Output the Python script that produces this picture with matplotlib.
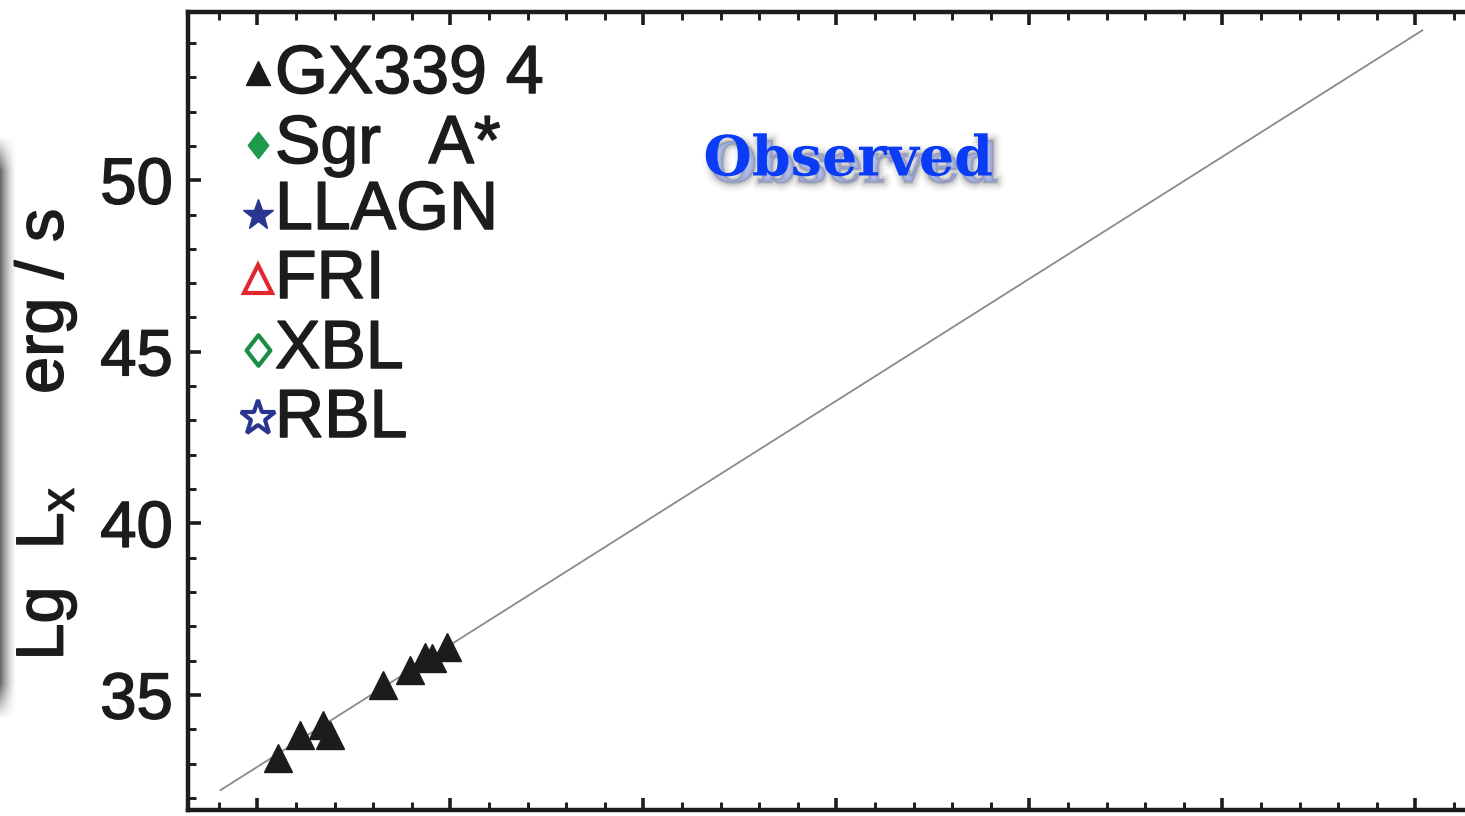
import numpy as np
import matplotlib
matplotlib.use("Agg")
import matplotlib.pyplot as plt
import matplotlib.patheffects as pe
from matplotlib.lines import Line2D
from matplotlib.path import Path
from matplotlib.ticker import MultipleLocator

plt.rcParams["font.family"] = ["Liberation Sans", "DejaVu Sans"]
plt.rcParams["mathtext.fontset"] = "custom"
plt.rcParams["mathtext.rm"] = "Liberation Sans"

# GX339-4 measurements (log radio luminosity, log X-ray luminosity)
gx_lg_lr = [30.52, 31.11, 31.71, 31.89, 33.26, 33.96, 34.35, 34.53, 34.92]
gx_lg_lx = [33.16, 33.83, 34.13, 33.83, 35.29, 35.73, 36.11, 36.08, 36.40]

# linear relation Lg Lx = intercept + slope * Lg Lr
fit_slope = 0.711
fit_intercept = 11.58
fit_x_range = [29.04, 60.18]

# legend entries
legend_names = ["GX339 4", "Sgr \u2009 A*", "LLAGN", "FRI", "XBL", "RBL"]
legend_markers = ["^", "diamond", "*", "^", "diamond", "*"]
legend_colors = ["#1a1a1a", "#1f9a4a", "#2a3590", "#e0262f", "#1b8c44", "#2a3590"]
legend_filled = [True, True, True, False, False, False]

y_ticks = [35, 40, 45, 50]

INK = "#1c1c1c"
heavy = [pe.withStroke(linewidth=1.1, foreground=INK)]

# slightly tall diamond marker
tall_diamond = Path([(0, 1), (0.78, 0), (0, -1), (-0.78, 0), (0, 1)],
                    [Path.MOVETO, Path.LINETO, Path.LINETO, Path.LINETO, Path.CLOSEPOLY])

W, H = 1465, 816
fig = plt.figure(figsize=(W / 100, H / 100), dpi=100)

# axes geometry in pixels
ax_left, ax_top, ax_bottom = 188, 12, 810
x_lo, x_hi = 28.2, 66.0
px_per_x = 38.6
ax_w = (x_hi - x_lo) * px_per_x
ax = fig.add_axes([ax_left / W, 1 - ax_bottom / H, ax_w / W, (ax_bottom - ax_top) / H])
ax.set_xlim(x_lo, x_hi)
ax.set_ylim(31.65, 54.9)

# soft shadow strip at the far left
sh = fig.add_axes([0, 1 - 720 / H, 17 / W, (720 - 135) / H])
sh.axis("off")
xx = np.linspace(0, 1, 40)
yy = np.linspace(0, 1, 200)
hx = np.clip(1 - xx, 0, 1) ** 1.5
hy = np.clip(np.minimum(yy, 1 - yy) / 0.06, 0, 1)
shade = 0.6 * np.outer(hy, hx)
sh.imshow(1 - shade, cmap="gray", vmin=0, vmax=1, aspect="auto",
          extent=[0, 1, 0, 1], interpolation="bilinear")
sh.set_xlim(0, 1)
sh.set_ylim(0, 1)

# relation line and data
xs = np.array(fit_x_range)
ax.plot(xs, fit_intercept + fit_slope * xs, color="#8a8a8a", lw=1.3, zorder=2)
ax.plot(gx_lg_lr, gx_lg_lx, ls="none", marker="^", ms=20.5, color=INK,
        markeredgecolor=INK, zorder=3)

# axes styling
for s in ax.spines.values():
    s.set_linewidth(3.2)
    s.set_color(INK)
ax.yaxis.set_major_locator(MultipleLocator(5))
ax.yaxis.set_minor_locator(MultipleLocator(1))
ax.xaxis.set_major_locator(MultipleLocator(5))
ax.xaxis.set_minor_locator(MultipleLocator(1))
ax.set_yticks(y_ticks)
ax.set_yticklabels([str(t) for t in y_ticks])
ax.tick_params(which="both", direction="in", top=True, right=True, bottom=True, left=True,
               labelbottom=False, color=INK)
ax.tick_params(which="major", length=9, width=2.6, labelsize=47, pad=11, labelcolor=INK)
ax.tick_params(which="minor", length=5.5, width=2.1)
for lab in ax.get_yticklabels():
    lab.set_path_effects(heavy)

# y-axis title
fig.text(46 / W, 1 - 435 / H, r"Lg  L$_\mathregular{x}$     erg / s", rotation=90,
         ha="center", va="center", fontsize=48, color=INK, path_effects=heavy)

# legend drawn by hand
row_y = [73, 145, 215, 279, 350, 418]
base_y = [93, 163, 229, 298, 368, 437]
marker_sizes = [17, 19, 23, 20, 22, 26]
for name, mk, col, filled, ry, by, ms in zip(legend_names, legend_markers, legend_colors,
                                              legend_filled, row_y, base_y, marker_sizes):
    if mk == "diamond":
        mk = tall_diamond
    line = Line2D([258 / W], [1 - ry / H], transform=fig.transFigure, marker=mk, ms=ms,
                  ls="none", color=col, markerfacecolor=col if filled else "white",
                  markeredgecolor=col, markeredgewidth=1 if filled else 3.0)
    fig.add_artist(line)
    fig.text(275 / W, 1 - by / H, name, ha="left", va="baseline", fontsize=49,
             color=INK, path_effects=heavy)

# title with soft drop shadow
shadow = [pe.Stroke(linewidth=w, foreground="#000000", alpha=a, offset=(4, -5))
          for w, a in [(12, 0.03), (8, 0.05), (5, 0.07), (2, 0.12)]]
fig.text(848 / W, 1 - 160 / H, "Observed", ha="center", va="center", fontsize=40,
         fontweight="bold", family="DejaVu Serif", color="#0b3cf5",
         path_effects=shadow + [pe.Normal()])

fig.savefig("out.png", dpi=100)
